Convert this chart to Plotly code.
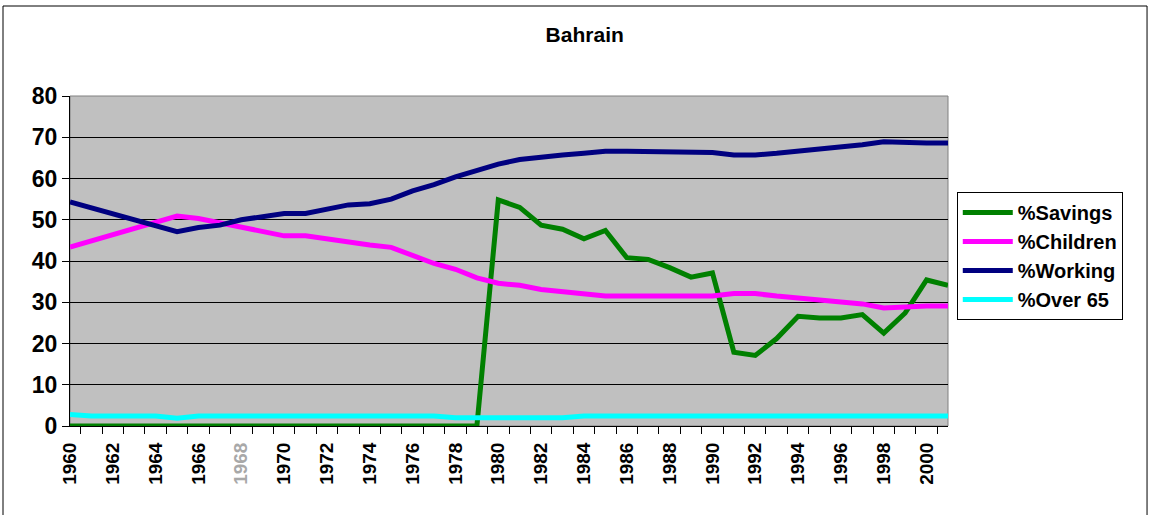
import plotly.graph_objects as go

years = [str(y) for y in range(1960, 2002)]

savings = [0] * 20 + [54.8, 53.0, 48.7, 47.7, 45.4, 47.4, 40.8, 40.4, 38.4, 36.1,
                      37.1, 17.9, 17.1, 21.2, 26.6, 26.2, 26.2, 27.0, 22.5, 27.4,
                      35.4, 34.1]
children = [43.4, 44.9, 46.4, 47.9, 49.4, 50.9, 50.3, 49.3, 48.3, 47.3,
            46.1, 46.1, 45.3, 44.7, 43.9, 43.3, 41.4, 39.4, 38.0, 35.9,
            34.6, 34.1, 33.1, 32.6, 32.1, 31.5, 31.5, 31.5, 31.5, 31.5,
            31.5, 32.1, 32.1, 31.5, 31.1, 30.6, 30.1, 29.6, 28.6, 29.0,
            29.1, 29.1]
working = [54.3, 52.9, 51.5, 50.0, 48.6, 47.1, 48.1, 48.7, 50.0, 50.9,
           51.5, 51.5, 52.6, 53.6, 53.9, 55.0, 57.0, 58.5, 60.4, 62.1,
           63.5, 64.6, 65.3, 65.7, 66.1, 66.6, 66.6, 66.6, 66.6, 66.6,
           66.3, 65.7, 65.7, 66.1, 66.6, 67.0, 67.5, 68.2, 68.9, 68.6,
           68.6, 68.6]
over65 = [2.8, 2.4, 2.4, 2.4, 2.4, 1.9, 2.4, 2.4, 2.4, 2.4,
          2.4, 2.4, 2.4, 2.4, 2.4, 2.4, 2.4, 2.4, 2.0, 2.0,
          2.0, 2.0, 2.0, 2.0, 2.4, 2.4, 2.4, 2.4, 2.4, 2.4,
          2.4, 2.4, 2.4, 2.4, 2.4, 2.4, 2.4, 2.4, 2.4, 2.4,
          2.4, 2.4]

series = [
    ("%Savings", savings, "#008000"),
    ("%Children", children, "#FF00FF"),
    ("%Working", working, "#000080"),
    ("%Over 65", over65, "#00FFFF"),
]

# every second year labelled, 1968 comes out greyed in the original
tick_text = []
for i, y in enumerate(years):
    if i % 2:
        tick_text.append("")
    elif y == "1968":
        tick_text.append("<span style='color:#A8A8A8'>1968</span>")
    else:
        tick_text.append(y)

fig = go.Figure()
for name, vals, col in series:
    fig.add_trace(go.Scatter(x=years, y=vals, name=name, mode="lines",
                             line=dict(color=col, width=5)))

fig.update_xaxes(
    type="category",
    tickvals=years,
    ticktext=tick_text,
    tickson="boundaries",
    ticks="outside", ticklen=7, tickcolor="black",
    tickangle=-90,
    ticklabelstandoff=8,
    tickfont=dict(family="Liberation Sans, Arial", size=19, color="black", weight="bold"),
    showline=True, linecolor="black", linewidth=1,
    showgrid=False,
)
fig.update_yaxes(
    range=[0, 80], dtick=10,
    ticks="outside", ticklen=7, tickcolor="black",
    tickfont=dict(family="Liberation Sans, Arial", size=23, color="black", weight="bold"),
    showline=True, linecolor="black", linewidth=1,
    showgrid=True, gridcolor="black", gridwidth=1,
    zeroline=False,
)

fig.update_layout(
    width=1151, height=515,
    paper_bgcolor="white",
    plot_bgcolor="#C0C0C0",
    margin=dict(l=70, r=203, t=96, b=89),
    title=dict(text="<b>Bahrain</b>", x=0.508, xanchor="center", y=0.932, yanchor="middle",
               font=dict(family="Liberation Sans, Arial", size=21, color="black")),
    showlegend=True,
    legend=dict(x=1.01, y=0.709, xanchor="left", yanchor="top",
                bordercolor="black", borderwidth=1, bgcolor="white",
                itemwidth=50,
                font=dict(family="Liberation Sans, Arial", size=20, color="black", weight="bold"),
                tracegroupgap=0),
    shapes=[
        # grey frame on top/right of plot area
        dict(type="rect", xref="paper", yref="paper", x0=0, x1=1, y0=0, y1=1,
             line=dict(color="#808080", width=1), layer="below"),
        # outer chart border
        dict(type="rect", xref="paper", yref="paper", x0=-0.0763, x1=1.2267, y0=-0.3, y1=1.2727,
             line=dict(color="black", width=1)),
    ],
)

# drop the page's default body margin so the figure sits at 0,0
fig.write_html("out.html", config={"displayModeBar": False},
               post_script="document.body.style.margin='0';")
